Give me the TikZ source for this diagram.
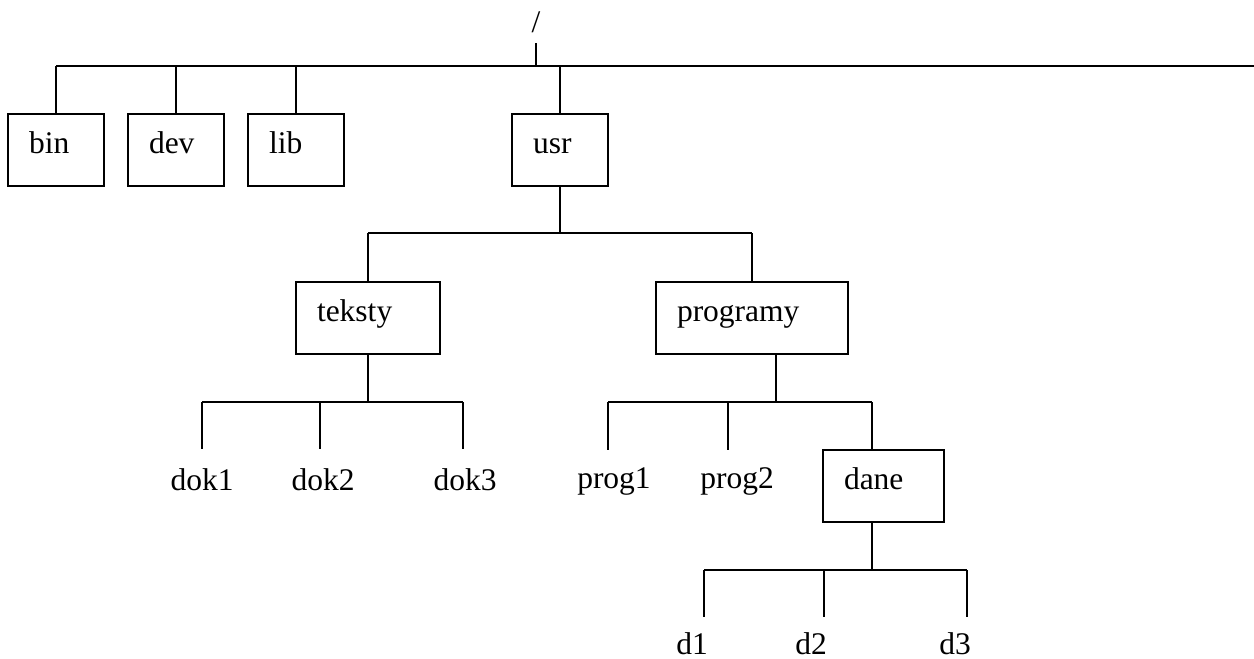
\documentclass[tikz,border=0pt]{standalone}
\usepackage{fontspec}
\setmainfont{Liberation Serif}
\begin{document}
\begin{tikzpicture}[x=1pt,y=-1pt,line width=2pt,
  txt/.style={font=\fontsize{31.5}{37}\selectfont},
  dirbox/.style={txt,draw,line width=2pt,outer sep=0pt,inner xsep=21pt,inner ysep=0pt,
    minimum height=72pt,text width=#1,align=left,anchor=north west,
    text height=0.7em,text depth=0.1em},
  leaf/.style={txt,inner sep=0pt,anchor=base}]
\useasboundingbox (0,0) rectangle (1254,659);
% root
\node[leaf] (root) at (536,32) {/};
\coordinate (rt) at (536,43);
\coordinate (tl) at (56,66);
\coordinate (tr) at (1254,66);
\draw (tl) -- (tr);
\draw (rt) -- (rt |- tl);
% level 1
\node[dirbox=54pt] (bin) at (8,114) {bin};
\node[dirbox=54pt] (dev) at (128,114) {dev};
\node[dirbox=54pt] (lib) at (248,114) {lib};
\node[dirbox=54pt] (usr) at (512,114) {usr};
\foreach \n in {bin,dev,lib,usr} \draw (\n.north) -- (\n.north |- tl);
% usr children
\coordinate (ul) at (368,233);
\coordinate (ur) at (752,233);
\node[dirbox=102pt] (teksty) at (296,282) {teksty};
\node[dirbox=150pt] (programy) at (656,282) {programy};
\draw (usr.south) -- (usr.south |- ul);
\draw (ul) -- (ur);
\draw (ul) -- (ul |- teksty.north);
\draw (ur) -- (ur |- programy.north);
% teksty children
\coordinate (tkl) at (202,402);
\coordinate (tkm) at (320,402);
\coordinate (tkr) at (463,402);
\coordinate (tke) at (0,449);
\draw (teksty.south) -- (teksty.south |- tkl);
\draw (tkl) -- (tkr);
\foreach \c in {tkl,tkm,tkr} \draw (\c) -- (\c |- tke);
\node[leaf] (dok1) at (202,490) {dok1};
\node[leaf] (dok2) at (323,490) {dok2};
\node[leaf] (dok3) at (465,490) {dok3};
% programy children
\coordinate (pgt) at (776,354);
\coordinate (pgl) at (608,402);
\coordinate (pgm) at (728,402);
\coordinate (pgr) at (872,402);
\coordinate (pge) at (0,450);
\draw (pgt) -- (pgt |- pgl);
\draw (pgl) -- (pgr);
\draw (pgl) -- (pgl |- pge);
\draw (pgm) -- (pgm |- pge);
\node[leaf] (prog1) at (614,488) {prog1};
\node[leaf] (prog2) at (737,488) {prog2};
\node[dirbox=79pt] (dane) at (823,450) {dane};
\draw (pgr) -- (pgr |- dane.north);
% dane children
\coordinate (dl) at (704,570);
\coordinate (dm) at (824,570);
\coordinate (dr) at (967,570);
\coordinate (de) at (0,617);
\draw (pgr |- dane.south) -- (pgr |- dl);
\draw (dl) -- (dr);
\foreach \c in {dl,dm,dr} \draw (\c) -- (\c |- de);
\node[leaf] (d1) at (692,654) {d1};
\node[leaf] (d2) at (811,654) {d2};
\node[leaf] (d3) at (955,654) {d3};
\end{tikzpicture}
\end{document}
